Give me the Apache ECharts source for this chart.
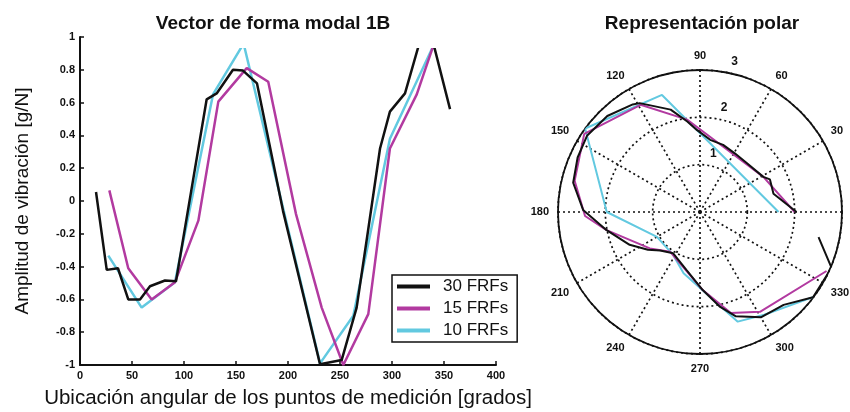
<!DOCTYPE html>
<html><head><meta charset="utf-8">
<script src="https://cdn.jsdelivr.net/npm/echarts@6/dist/echarts.min.js"></script>
<style>html,body{margin:0;padding:0;background:#fff}#c{width:850px;height:412px}</style>
</head><body><div id="c"></div>
<script>
// ---- labels / ticks ----
const leftTitle = 'Vector de forma modal 1B';
const rightTitle = 'Representación polar';
const xName = 'Ubicación angular de los puntos de medición [grados]';
const yName = 'Amplitud de vibración [g/N]';
const legendNames = ['30 FRFs', '15 FRFs', '10 FRFs'];
const xTicks = [0, 50, 100, 150, 200, 250, 300, 350, 400];
const yTicks = [-1, -0.8, -0.6, -0.4, -0.2, 0, 0.2, 0.4, 0.6, 0.8, 1];
const angleTicks = [0, 30, 60, 90, 120, 150, 180, 210, 240, 270, 300, 330, 360];
const radiusTicks = [0, 1, 2, 3];

// ---- left chart: angle [deg] vs amplitude [g/N] ----
const ang30 = [15.4, 25.7, 36.5, 46.4, 57.7, 67.3, 81.7, 92.3, 121.8, 131.4, 147.1, 156.7, 170.2, 195.2, 230.8, 251.6, 266, 277, 288.5, 298, 312.5, 333.4, 355.8];
const amp30 = [0.055, -0.42, -0.41, -0.6, -0.6, -0.52, -0.485, -0.49, 0.62, 0.656, 0.8, 0.795, 0.717, -0.06, -0.995, -0.97, -0.65, -0.18, 0.32, 0.545, 0.656, 1.12, 0.56];
const ang15 = [28.2, 46.4, 68.9, 91.3, 113.8, 133, 160.3, 181, 207.7, 232.4, 253.2, 277.2, 298, 323.8, 340.4];
const amp15 = [0.065, -0.41, -0.6, -0.495, -0.12, 0.606, 0.81, 0.727, -0.08, -0.65, -1.0, -0.69, 0.32, 0.65, 0.96];
const ang10 = [27.2, 59.3, 91.3, 127.9, 157.3, 194, 230.8, 262.8, 298, 340];
const amp10 = [-0.333, -0.65, -0.495, 0.65, 0.96, -0.01, -0.99, -0.70, 0.38, 0.95];

// ---- polar chart: angle [deg], radius ----
const polTheta30 = [0, 14, 25, 29, 46, 59, 71, 82, 92, 98, 106, 119, 122, 134, 146, 156, 167, 179, 191, 205, 216, 224, 237, 257, 272, 282, 289, 300, 312, 323, 337, 348];
const polR30 = [2.04, 1.6, 1.63, 1.53, 1.43, 1.44, 1.5, 1.54, 1.73, 1.93, 2.25, 2.63, 2.68, 2.82, 2.88, 2.83, 2.75, 2.47, 2.01, 1.64, 1.36, 1.17, 1.04, 1.26, 1.65, 2.05, 2.33, 2.57, 2.64, 2.99, 3.02, 2.56];
const polTheta15 = [0, 29, 77, 98, 119, 146, 166, 182, 191, 216, 233, 272, 287, 301, 335];
const polR15 = [2.0, 1.53, 1.53, 1.97, 2.59, 2.95, 2.73, 2.43, 2.01, 1.31, 1.05, 1.65, 2.23, 2.46, 2.95];
const polTheta10 = [0, 108, 144, 180, 210, 238, 255, 289, 302, 323];
const polR10 = [1.66, 2.6, 3.0, 1.97, 1.05, 1.07, 1.34, 2.45, 2.56, 2.99];

const colors = ['#111111', '#b23aa0', '#62c9e0'];
const FONT = '"Liberation Sans", Arial, sans-serif';
const zip = (a, b) => a.map((v, i) => [v, b[i]]);

const chart = echarts.init(document.getElementById('c'), null, { renderer: 'canvas' });

const dotted = { type: [2, 3], color: '#111', width: 1.7 };
const tickLbl = { color: '#111', fontSize: 11, fontWeight: 'bold', fontFamily: FONT };

const leftSeries = [
  { name: legendNames[2], data: zip(ang10, amp10), color: colors[2] },
  { name: legendNames[1], data: zip(ang15, amp15), color: colors[1] },
  { name: legendNames[0], data: zip(ang30, amp30), color: colors[0] }
].map(s => ({
  type: 'line', xAxisIndex: 0, yAxisIndex: 0, name: s.name, data: s.data,
  symbol: 'none', showSymbol: false, itemStyle: { color: s.color },
  lineStyle: { color: s.color, width: 2.5 }, z: 3
}));

const polarSeries = [
  { name: legendNames[2], data: zip(polR10, polTheta10), color: colors[2] },
  { name: legendNames[1], data: zip(polR15, polTheta15), color: colors[1] },
  { name: legendNames[0], data: zip(polR30, polTheta30), color: colors[0] }
].map(s => ({
  type: 'line', coordinateSystem: 'polar', polarIndex: 0, name: s.name, data: s.data,
  symbol: 'none', showSymbol: false, itemStyle: { color: s.color },
  lineStyle: { color: s.color, width: 2 }, z: 3
}));

chart.setOption({
  animation: false,
  backgroundColor: '#fff',
  textStyle: { fontFamily: FONT },
  title: [
    { text: leftTitle, left: 268, top: 9, textAlign: 'center',
      textStyle: { fontSize: 19, fontWeight: 'bold', color: '#111', fontFamily: FONT } },
    { text: rightTitle, left: 697, top: 9, textAlign: 'center',
      textStyle: { fontSize: 19, fontWeight: 'bold', color: '#111', fontFamily: FONT } }
  ],
  grid: { left: 80, top: 37, width: 416, height: 328, containLabel: false, outerBoundsMode: 'none' },
  xAxis: {
    type: 'value', min: xTicks[0], max: xTicks[xTicks.length - 1], interval: xTicks[1] - xTicks[0],
    name: xName, nameLocation: 'middle', nameGap: 23,
    nameTextStyle: { fontSize: 20.5, color: '#111', fontFamily: FONT },
    axisLine: { show: true, onZero: false, lineStyle: { color: '#111', width: 2 } },
    axisTick: { show: true, inside: true, length: 4, lineStyle: { color: '#111', width: 1.5 } },
    axisLabel: Object.assign({ margin: 5, showMinLabel: true, showMaxLabel: true, hideOverlap: false }, tickLbl),
    splitLine: { show: false }
  },
  yAxis: {
    type: 'value', min: yTicks[0], max: yTicks[yTicks.length - 1], interval: 0.2,
    name: yName, nameLocation: 'middle', nameGap: 48,
    nameTextStyle: { fontSize: 19, color: '#111', fontFamily: FONT },
    axisLine: { show: true, onZero: false, lineStyle: { color: '#111', width: 2 } },
    axisTick: { show: true, inside: true, length: 4, lineStyle: { color: '#111', width: 1.5 } },
    axisLabel: Object.assign({ margin: 5, showMinLabel: true, showMaxLabel: true, hideOverlap: false }, tickLbl),
    splitLine: { show: false }
  },
  polar: [
    { center: [700, 212], radius: 142 },
    { center: [700, 212], radius: [12, 154] }
  ],
  angleAxis: [
    { polarIndex: 0, type: 'value', min: angleTicks[0], max: angleTicks[angleTicks.length - 1],
      interval: angleTicks[1] - angleTicks[0], startAngle: 0, clockwise: false,
      axisLine: { show: true, lineStyle: { color: '#111', width: 1.8 } },
      axisTick: { show: false },
      axisLabel: Object.assign({ margin: 9, formatter: v => (v === 0 || v === 360) ? '' : String(v) }, tickLbl),
      splitLine: { show: true, lineStyle: dotted } },
    { polarIndex: 1, type: 'value', min: 0, max: 360, startAngle: 77, clockwise: false, show: false }
  ],
  radiusAxis: [
    { polarIndex: 0, type: 'value', min: radiusTicks[0], max: radiusTicks[radiusTicks.length - 1], interval: 1,
      axisLine: { show: false }, axisTick: { show: false }, axisLabel: { show: false },
      splitLine: { show: true, lineStyle: dotted } },
    { polarIndex: 1, type: 'value', min: radiusTicks[0], max: radiusTicks[radiusTicks.length - 1], interval: 1,
      axisLine: { show: false }, axisTick: { show: false }, splitLine: { show: false },
      axisLabel: { show: true, margin: 0, align: 'center', verticalAlign: 'middle', fontSize: 12,
        color: '#111', fontWeight: 'bold', fontFamily: FONT,
        formatter: v => v === 0 ? '' : String(v) } }
  ],
  legend: {
    data: legendNames, orient: 'vertical', left: 392, top: 275,
    backgroundColor: '#fff', borderColor: '#111', borderWidth: 1.5,
    padding: [3, 9, 3, 5], itemGap: 5, itemWidth: 33, itemHeight: 4, icon: 'rect',
    textStyle: { fontSize: 17, color: '#111', fontFamily: FONT, padding: [0, 0, 0, 8] },
    selectedMode: false
  },
  graphic: [
    { type: 'rect', shape: { x: 85, y: 32, width: 415, height: 16 }, style: { fill: '#fff' }, z: 50, silent: true }
  ],
  series: leftSeries.concat(polarSeries)
});
</script></body></html>
